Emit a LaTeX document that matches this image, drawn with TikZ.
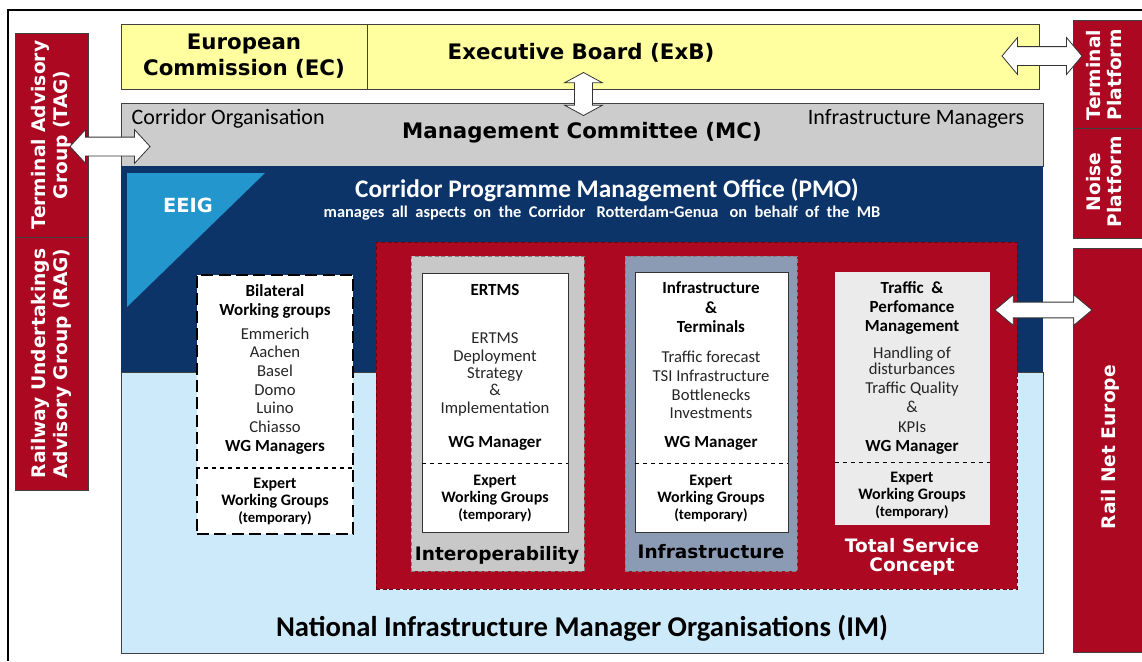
\documentclass[tikz,border=0pt]{standalone}
\usepackage{fontspec}
\setmainfont{DejaVu Sans}
\newfontfamily\calfont{Carlito}
\usetikzlibrary{shapes.arrows, fit}
\definecolor{ecyellow}{RGB}{255,255,160}
\definecolor{mcgrey}{RGB}{204,204,204}
\definecolor{pmonavy}{RGB}{12,52,105}
\definecolor{imblue}{RGB}{205,234,250}
\definecolor{eeigblue}{RGB}{35,150,205}
\definecolor{corred}{RGB}{172,8,34}
\definecolor{interopgrey}{RGB}{200,200,200}
\definecolor{infraslate}{RGB}{140,155,180}
\definecolor{tscgrey}{RGB}{235,235,235}
\newcommand{\setfs}[2]{\fontsize{#1}{#2}\selectfont}

\begin{document}
\begin{tikzpicture}[x=0.75pt, y=-0.75pt]
% Define area styles
\tikzstyle{area} = [inner sep=0pt, draw=black!75, line width=0.6pt]
\tikzstyle{redbar} = [area, fill=corred]
\tikzstyle{pillarbox} = [inner sep=0pt, draw=black!50, densely dashed, line width=0.5pt]
\tikzstyle{blockarrow} = [double arrow, draw=black!80, fill=white, inner xsep=0pt, line width=0.6pt]
% Define text styles
\tikzstyle{sidetext} = [rotate=90, align=center, text=white, font=\setfs{14}{16}\bfseries]
\tikzstyle{headtext} = [align=center, font=\setfs{16}{19.5}\bfseries]
\tikzstyle{wgbold} = [align=center, font=\calfont\setfs{12.75}{14.25}\bfseries]
\tikzstyle{wgplain} = [align=center, text=black!85, font=\calfont\setfs{12.5}{14}]
\tikzstyle{expert} = [align=center, font=\calfont\setfs{12}{12.75}\bfseries]
\tikzstyle{pillar} = [align=center, font=\setfs{13.9}{14.25}\bfseries]
\useasboundingbox[fill=white] (0,0) rectangle (1142,661);
\draw[line width=0.8pt] (8,661) -- (8,10) -- (1142,10);
% Advisory groups (left)
\node[redbar, fit={(15,33) (88,237)}] (tag) {};
\node[redbar, fit={(15,237) (88,490)}] (rag) {};
\node[sidetext] (tagtext) at (tag.center) {Terminal Advisory\\Group (TAG)};
\node[sidetext] (ragtext) at (rag.center) {Railway Undertakings\\Advisory Group (RAG)};
% EC and Executive Board
\node[area, fill=ecyellow, fit={(121,24) (367,89)}] (ec) {};
\node[area, fill=ecyellow, fit={(367,24) (1039,89)}] (exb) {};
\node[headtext] (ectext) at (ec.center) {European\\Commission (EC)};
\node[headtext] (exbtext) at (581,53) {Executive Board (ExB)};
% Management Committee
\node[area, fill=mcgrey, fit={(121,103) (1043,166)}] (mc) {};
\node[anchor=west, font=\calfont\setfs{16.5}{18}] (corrorg) at (127,119) {Corridor Organisation};
\node[anchor=east, font=\calfont\setfs{16.5}{18}] (inframan) at (1029,119) {Infrastructure Managers};
\node[headtext] (mctext) at (582,133) {Management Committee (MC)};
% PMO and national IM
\node[area, draw=none, fill=pmonavy, fit={(121,166) (1043,372)}] (pmo) {};
\node[area, fill=imblue, fit={(121,372) (1043,653)}] (im) {};
\fill[eeigblue] (127,173) -- (265,173) -- (127,307) -- cycle;
\node[text=white, font=\setfs{14.6}{16}\bfseries] (eeig) at (188,205) {EEIG};
\node[text=white, font=\calfont\setfs{19}{22}\bfseries] (pmotitle) at (607,190) {Corridor Programme Management Office (PMO)};
\node[text=white, font=\calfont\setfs{12.3}{15}\bfseries] (pmosub) at (602,213) {manages\ \ all\ \ aspects\ \ on\ \ the\ \ Corridor\ \ \ Rotterdam-Genua\ \ \ on\ \ behalf\ \ of\ \ the\ \ MB};
\node[font=\calfont\setfs{21.5}{24}\bfseries] (imtext) at (582,628) {National Infrastructure Manager Organisations (IM)};
% Total service concept
\node[inner sep=0pt, fill=corred, draw=corred!60!black, densely dashed, line width=0.7pt, fit={(376,242) (1017,589)}] (tsc) {};
% Bilateral working groups
\node[inner sep=0pt, fill=white, draw=black, line width=1.6pt, dash pattern=on 9pt off 4pt, fit={(197,275) (353,534)}] (bilat) {};
\coordinate (bilsep) at (0,468);
\draw[dashed, line width=0.8pt] (bilsep -| bilat.west) -- (bilsep -| bilat.east);
\node[wgbold] (bilhead) at (275,301.5) {Bilateral\\Working groups};
\node[wgplain] (bilplaces) at (275,380) {Emmerich\\Aachen\\Basel\\Domo\\Luino\\Chiasso};
\node[wgbold] (bilman) at (275,447) {WG Managers};
\node[expert] (bilexp) at (275,501) {Expert\\Working Groups\\{\setfs{11}{12}(temporary)}};
% Interoperability
\node[pillarbox, fill=interopgrey, fit={(411,256) (584,571)}] (interop) {};
\node[area, fill=white, draw=black!80, fit={(422,273) (568,532)}] (ertms) {};
\coordinate (wgsep) at (0,463);
\draw[dashed, line width=0.6pt] (wgsep -| ertms.west) -- (wgsep -| ertms.east);
\node[wgbold] (ertmshead) at (495,290) {ERTMS};
\node[wgplain, font=\calfont\setfs{12.5}{13}] (ertmsbody) at (495,374.5) {ERTMS\\Deployment\\Strategy\\\&\\Implementation};
\node[wgbold] (ertmsman) at (495,443) {WG Manager};
\node[expert] (ertmsexp) at (495,498) {Expert\\Working Groups\\{\setfs{11}{12}(temporary)}};
\node[pillar] (interoptext) at (497,555) {Interoperability};
% Infrastructure
\node[pillarbox, fill=infraslate, fit={(625,256) (797,571)}] (infra) {};
\node[area, fill=white, draw=black!80, fit={(635,272) (788,532)}] (infterm) {};
\draw[dashed, line width=0.6pt] (wgsep -| infterm.west) -- (wgsep -| infterm.east);
\node[wgbold, font=\calfont\setfs{12.75}{14.6}\bfseries] (inftermhead) at (711,307.5) {Infrastructure\\\&\\Terminals};
\node[wgplain] (inftermbody) at (711,385) {Traffic forecast\\TSI Infrastructure\\Bottlenecks\\Investments};
\node[wgbold] (inftermman) at (711,443) {WG Manager};
\node[expert] (inftermexp) at (711,498) {Expert\\Working Groups\\{\setfs{11}{12}(temporary)}};
\node[pillar] (infratext) at (711,552) {Infrastructure};
% Traffic and performance management
\node[inner sep=0pt, fill=tscgrey, fit={(835,272) (990,525)}] (traffic) {};
\coordinate (trafsep) at (0,462);
\draw[dashed, line width=0.6pt] (trafsep -| traffic.west) -- (trafsep -| traffic.east);
\node[wgbold] (traffichead) at (912,308) {Traffic\ \ \&\\Perfomance\\Management};
\node[wgplain, font=\calfont\setfs{12.5}{10.5}] (trafficbody) at (912,361) {Handling of\\disturbances};
\node[wgplain, font=\calfont\setfs{12.5}{14.6}] (traffickpi) at (912,407) {Traffic Quality\\\&\\KPIs};
\node[wgbold] (trafficman) at (912,447) {WG Manager};
\node[expert] (trafficexp) at (912,495) {Expert\\Working Groups\\{\setfs{11}{12}(temporary)}};
\node[pillar, text=white] (tsctext) at (912,556.5) {Total Service\\Concept};
% Platforms and RNE (right)
\node[redbar, fit={(1073,20) (1150,128)}] (tplat) {};
\node[redbar, fit={(1073,128) (1150,238)}] (nplat) {};
\node[redbar, fit={(1073,248) (1150,652)}] (rne) {};
\node[sidetext] (tplattext) at (1104,75) {Terminal\\Platform};
\node[sidetext] (nplattext) at (1104,182) {Noise\\Platform};
\node[sidetext] (rnetext) at (1110,447) {Rail Net Europe};
% Relationships (block arrows)
\node[blockarrow, rotate=90, minimum height=32.25pt, inner ysep=6.4pt, double arrow head extend=7.5pt, double arrow tip angle=123] (exbarrow) at (583.5,94) {};
\node[blockarrow, minimum height=60pt, inner ysep=6.75pt, double arrow head extend=5.6pt, double arrow tip angle=95] (tagarrow) at (110,146.5) {};
\node[blockarrow, minimum height=60pt, inner ysep=6.75pt, double arrow head extend=6.75pt, double arrow tip angle=100] (tparrow) at (1042,56) {};
\node[blockarrow, minimum height=72.75pt, inner ysep=5.6pt, double arrow head extend=5.6pt, double arrow tip angle=80] (rnearrow) at (1043.5,310) {};
\end{tikzpicture}
\end{document}
